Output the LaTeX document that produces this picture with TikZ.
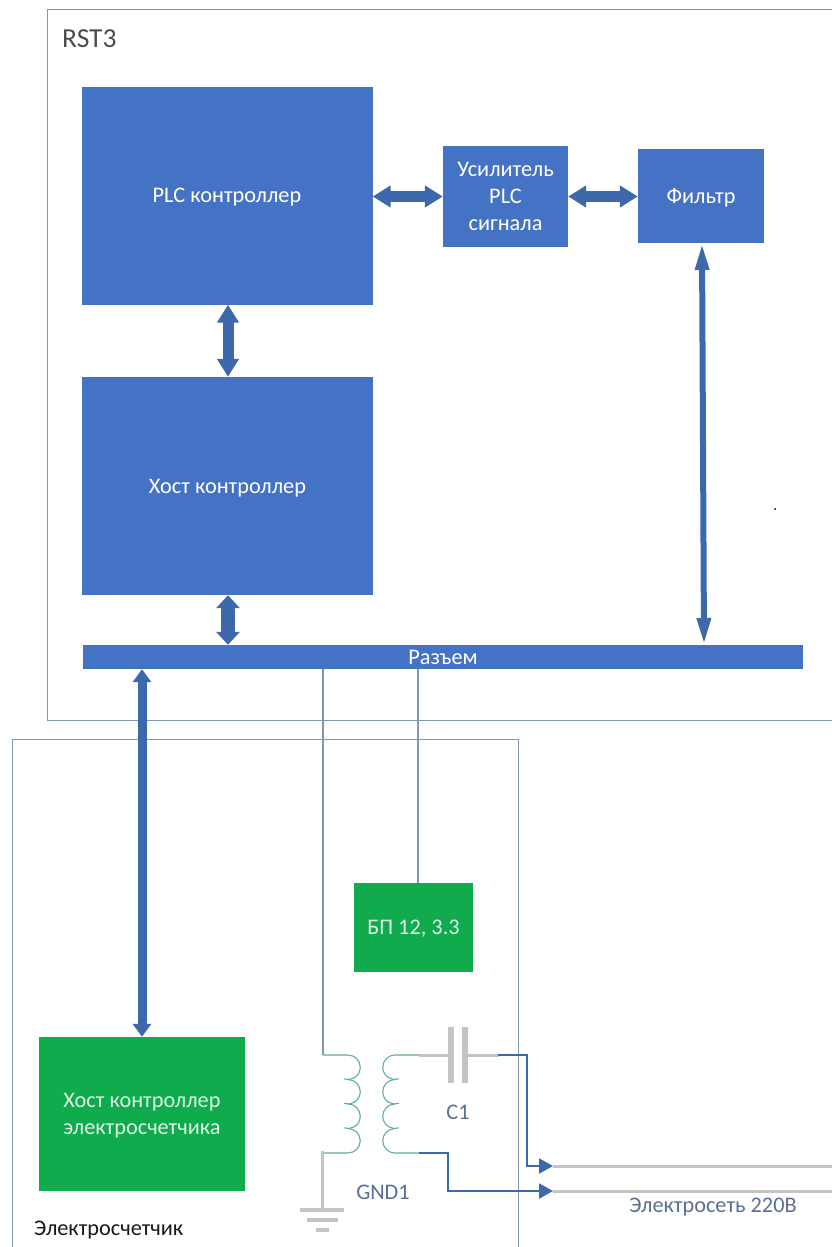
\documentclass[tikz,border=0pt]{standalone}
\usepackage{fontspec}
\setmainfont{Carlito}
\usetikzlibrary{positioning}
\usetikzlibrary{arrows.meta}
\definecolor{boxblue}{HTML}{4472C4}
\definecolor{boxgreen}{HTML}{0FAB4C}
\definecolor{arrowblue}{HTML}{3D68AC}
\definecolor{framegrey}{HTML}{8497B0}
\definecolor{wiregrey}{HTML}{C4C4C4}
\definecolor{coilgreen}{HTML}{5FAE8C}
\definecolor{labelgrey}{HTML}{5B6F93}
\tikzset{
  bluebox/.style={fill=boxblue, text=white, align=center, inner sep=0pt, text depth=0pt},
  greenbox/.style={fill=boxgreen, text=white!85!boxgreen, align=center, inner sep=0pt, text depth=0pt},
  frame/.style={draw=framegrey, line width=1pt},
  bigarrow/.style={draw=arrowblue, line width=11pt, {Triangle[width=21pt,length=18pt]}-{Triangle[width=21pt,length=18pt]}},
  longarrow/.style={draw=arrowblue, line width=6pt, {Triangle[width=13pt,length=27pt]}-{Triangle[width=13pt,length=27pt]}},
  meterarrow/.style={draw=arrowblue, line width=9pt, {Triangle[width=18pt,length=13pt]}-{Triangle[width=18pt,length=13pt]}},
  thinarrow/.style={draw=arrowblue, line width=2pt, -{Triangle[width=15pt,length=14pt]}},
  wire/.style={draw=framegrey, line width=2.6pt},
  greywire/.style={draw=wiregrey, line width=3pt},
  coil/.style={draw=coilgreen, line width=1.1pt}
}
\begin{document}
\begin{tikzpicture}[x=1pt, y=-1pt, font=\fontsize{22.3}{27}\selectfont]
  \useasboundingbox (0, 0) rectangle (832, 1247);

  % frames
  \draw [frame] (833, 10) -- (47, 10) -- (47, 720) -- (833, 720);
  \draw [frame] (518, 1248) -- (518, 739) -- (12, 739) -- (12, 1248);
  \node [anchor=west, inner sep=0pt, text=black!70] (rst) at (62, 39) {\fontsize{27.5}{30}\selectfont RST3};
  \node [anchor=west, inner sep=0pt, text=black!90] (meter) at (34, 1230) {Электросчетчик};
  \fill [black] (775, 509) circle (1pt);

  % blocks
  \node [bluebox, minimum width=291pt, minimum height=218pt] (plc) at (227, 195.5) {PLC контроллер};
  \node [bluebox, minimum width=125pt, minimum height=101pt] (amp) at (505.5, 196.5) {Усилитель\\PLC\\сигнала};
  \node [bluebox, minimum width=126pt, minimum height=94pt] (filter) at (701, 196) {Фильтр};
  \node [bluebox, minimum width=291pt, minimum height=218pt] (host) at (227.5, 486) {Хост контроллер};
  \node [bluebox, minimum width=720pt, minimum height=24pt] (conn) at (443, 657) {Разъем};
  \node [greenbox, minimum width=119pt, minimum height=89pt] (psu) at (413.5, 927.5) {БП 12, 3.3};
  \node [greenbox, minimum width=206pt, minimum height=154pt] (meterhost) at (142, 1114) {Хост контроллер\\электросчетчика};

  % big arrows
  \draw [bigarrow] (plc.east |- amp.west) -- (amp.west);
  \draw [bigarrow] (amp.east) -- (amp.east -| filter.west);
  \draw [bigarrow] (plc.south) ++(1, 0) coordinate (ps) -- (ps |- host.north);
  \coordinate (fs) at (702, 243);
  \coordinate (cs) at (704, 645);
  \draw [longarrow] (fs) -- (cs);
  \draw [bigarrow, line width=14pt, {Triangle[width=23pt,length=13pt]}-{Triangle[width=23pt,length=13pt]}] (ps |- host.south) -- (ps |- conn.north);
  \draw [meterarrow] (meterhost.north) -- (meterhost.north |- conn.south);

  % wires to the connector
  \coordinate (pri1) at (323, 1055);
  \coordinate (pri2) at (323, 1153);
  \coordinate (sec1) at (419, 1055);
  \coordinate (sec2) at (419, 1153);
  \draw [wire] (conn.south -| pri1) -- (pri1);
  \coordinate (pw) at (418, 883);
  \draw [wire] (conn.south -| pw) -- (pw);

  % transformer
  \draw [coil] (pri1) -- (348, 1055) arc (-90:108:12.25);
  \foreach \i in {1,2} {
    \draw [coil] (348, 1067.25 + 24.5*\i) ++(-90:12.25) arc (-90:108:12.25);
  }
  \draw [coil] (348, 1128.5) arc (-90:90:12.25) -- (pri2);
  \draw [coil] (sec1) -- (395, 1055) arc (270:72:12.25);
  \foreach \i in {1,2} {
    \draw [coil] (395, 1067.25 + 24.5*\i) ++(270:12.25) arc (270:72:12.25);
  }
  \draw [coil] (395, 1128.5) arc (270:90:12.25) -- (sec2);

  % ground
  \coordinate (gnd) at (322, 1210);
  \draw [greywire] (322, 1151) -- (gnd);
  \draw [draw=wiregrey, line width=4.5pt] (300, 1210) -- (344, 1210);
  \draw [draw=wiregrey, line width=4.5pt] (307, 1220) -- (338, 1220);
  \draw [draw=wiregrey, line width=4.5pt] (316, 1230) -- (329, 1230);
  \node [text=labelgrey] (gndlabel) at (383, 1192) {GND1};

  % capacitor
  \coordinate (capl) at (451, 1055);
  \coordinate (capr) at (465, 1055);
  \draw [greywire] (sec1) -- (capl);
  \draw [greywire] (capr) -- (499, 1055);
  \draw [draw=wiregrey, line width=6pt] (capl) ++(0, -28) -- ++(0, 56);
  \draw [draw=wiregrey, line width=6pt] (capr) ++(0, -28) -- ++(0, 56);
  \node [text=labelgrey] (clabel) at (458, 1112) {C1};

  % mains
  \coordinate (l1) at (553, 1166);
  \coordinate (l2) at (553, 1191);
  \draw [greywire] (l1) -- (833, 1166);
  \draw [greywire] (l2) -- (833, 1191);
  \draw [thinarrow] (498, 1055) -- (527, 1055) |- (l1);
  \draw [thinarrow] (sec2) -- (448, 1153) |- (l2);
  \node [text=labelgrey] (mains) at (713, 1207) {Электросеть 220В};
\end{tikzpicture}
\end{document}
